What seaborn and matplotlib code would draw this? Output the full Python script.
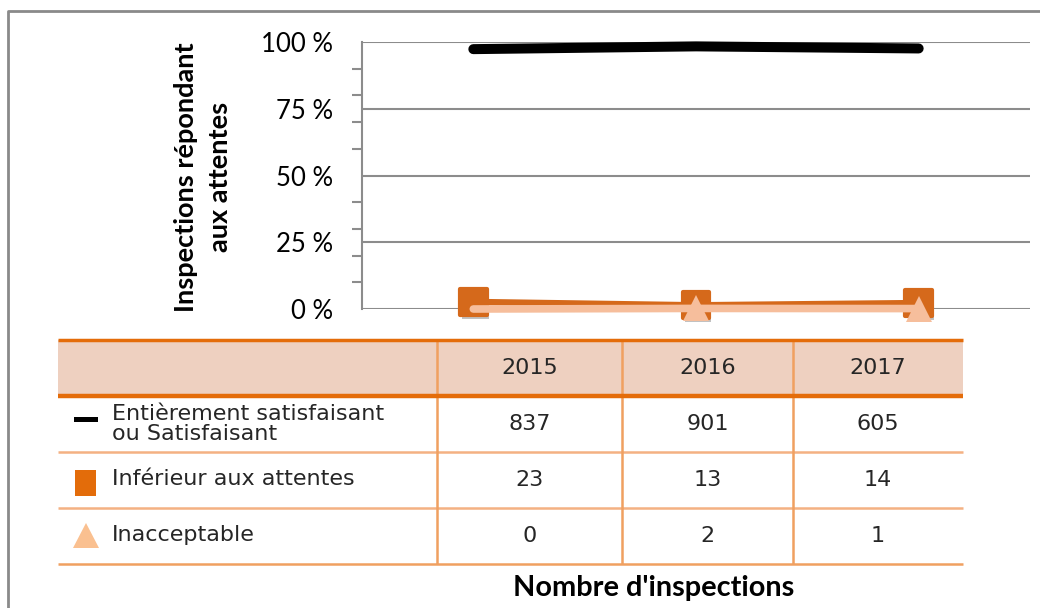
import matplotlib
matplotlib.use("Agg")
import matplotlib.pyplot as plt
import matplotlib.patheffects as pe
from matplotlib.patches import Rectangle, Polygon
from matplotlib.markers import MarkerStyle
from matplotlib.ticker import MultipleLocator, FuncFormatter
import seaborn as sns
import pandas as pd

# ---- data ----
years = ["2015", "2016", "2017"]
series_names = ["Entièrement satisfaisant\nou Satisfaisant", "Inférieur aux attentes", "Inacceptable"]
satisfaisant = [837, 901, 605]
inferieur = [23, 13, 14]
inacceptable = [0, 2, 1]
y_label = "Inspections répondant\naux attentes"
x_label = "Nombre d'inspections"

totals = [a + b + c for a, b, c in zip(satisfaisant, inferieur, inacceptable)]
pct_sat = [100 * v / t for v, t in zip(satisfaisant, totals)]
pct_inf = [100 * v / t for v, t in zip(inferieur, totals)]
pct_ina = [100 * v / t for v, t in zip(inacceptable, totals)]
xs = list(range(len(years)))

sns.set_theme(style="white")
plt.rcParams["font.family"] = ["Lato", "DejaVu Sans"]

W, H = 1040, 608
fig = plt.figure(figsize=(W / 100, H / 100), dpi=100)
fig.patch.set_facecolor("white")

L, R, T, B = 362, 1030, 42, 309
ax = fig.add_axes([L / W, 1 - B / H, (R - L) / W, (B - T) / H])
ax.set_facecolor("white")

BLACK = "#000000"
ORANGE = "#D5691B"
PEACH = "#F6BE9C"

df_sat = pd.DataFrame({"x": xs, "y": pct_sat})
df_inf = pd.DataFrame({"x": xs, "y": pct_inf})
df_ina = pd.DataFrame({"x": xs, "y": pct_ina})

sns.lineplot(data=df_sat, x="x", y="y", ax=ax, color=BLACK, linewidth=7.2,
             solid_capstyle="round", clip_on=False, zorder=5)
sns.lineplot(data=df_inf, x="x", y="y", ax=ax, color=ORANGE, linewidth=4.5,
             marker=MarkerStyle("s", joinstyle="round"), markersize=19,
             markeredgewidth=3, markeredgecolor=ORANGE, clip_on=False, zorder=6)
sns.lineplot(data=df_ina, x="x", y="y", ax=ax, color=PEACH, linewidth=5.5,
             solid_capstyle="round", marker="^", markersize=19, markeredgewidth=0,
             markevery=[1, 2], clip_on=False, zorder=7)
ax.lines[1].set_path_effects([pe.SimplePatchShadow(offset=(1.5, -2.5), shadow_rgbFace="#333333", alpha=0.3), pe.Normal()])

ax.set_xlim(-0.5, len(years) - 0.5)
ax.set_ylim(0, 100)
ax.set_xlabel("")
ax.set_ylabel("")
ax.set_xticks([])
ax.yaxis.set_major_locator(MultipleLocator(25))
ax.yaxis.set_minor_locator(MultipleLocator(10))
ax.yaxis.set_major_formatter(FuncFormatter(lambda v, p: f"{int(v)} %"))
ax.grid(axis="y", which="major", color="#8C8C8C", linewidth=1.5)
ax.tick_params(axis="y", which="major", length=0, labelsize=18.5, pad=21, colors="#000000", left=False)
ax.tick_params(axis="y", which="minor", length=7, width=1.5, color="#8C8C8C", left=True)
for s in ["top", "right", "bottom"]:
    ax.spines[s].set_visible(False)
ax.spines["left"].set_color("#8C8C8C")
ax.spines["left"].set_linewidth(1.5)

# ---- overlay in pixel coords ----
ov = fig.add_axes([0, 0, 1, 1], zorder=10)
ov.set_xlim(0, W)
ov.set_ylim(H, 0)
ov.axis("off")
ov.patch.set_alpha(0)

# outer frame
ov.plot([8, 8, W], [H, 11, 11], color="#8A8A8A", lw=2)

# y label
ov.text(203, 177, y_label, rotation=90, ha="center", va="center", multialignment="center",
        fontsize=19.5, fontweight="bold", color="#000000", linespacing=1.45)

# table
TL, TR = 58, 963
cols = [TL, 437, 622, 793, TR]
rows = [340, 396, 452, 508, 564]
ORL = "#E46C0A"
ORT = "#F4B183"
ORV = "#F0A060"
TXT = "#262626"
ov.add_patch(Rectangle((TL, rows[0]), TR - TL, rows[1] - rows[0], facecolor="#EED0C0", edgecolor="none"))
for y in rows[2:4]:
    ov.plot([TL, TR], [y, y], color=ORT, lw=1.8, solid_capstyle="butt")
ov.plot([TL, TR], [rows[-1], rows[-1]], color=ORV, lw=1.8, solid_capstyle="butt")
for x in cols[1:4]:
    ov.plot([x, x], [rows[0], rows[-1]], color=ORV, lw=1.8, solid_capstyle="butt")
ov.plot([TL, TR], [rows[0], rows[0]], color=ORL, lw=2.5, solid_capstyle="butt")
ov.plot([TL, TR], [rows[1], rows[1]], color=ORL, lw=3.2, solid_capstyle="butt")

tfs = 16
TF = "DejaVu Sans"
col_centers = [(cols[i] + cols[i + 1]) / 2 for i in range(1, 4)]
for cx, yr in zip(col_centers, years):
    ov.text(cx, 368, yr, ha="center", va="center", fontsize=tfs, color=TXT, family=TF)

row_vals = [satisfaisant, inferieur, inacceptable]
row_centers = [424, 480, 536]
for rc, vals in zip(row_centers, row_vals):
    for cx, v in zip(col_centers, vals):
        ov.text(cx, rc, str(v), ha="center", va="center", fontsize=tfs, color=TXT, family=TF)

ov.text(112, 424, series_names[0], ha="left", va="center", fontsize=tfs, color=TXT,
        family=TF, linespacing=0.95)
ov.text(112, 479, series_names[1], ha="left", va="center", fontsize=tfs, color=TXT, family=TF)
ov.text(112, 535, series_names[2], ha="left", va="center", fontsize=tfs, color=TXT, family=TF)

# legend keys
ov.add_patch(Rectangle((74, 417), 24, 5, facecolor="#000000", edgecolor="none"))
ov.add_patch(Rectangle((75, 470), 21, 26, facecolor="#E36C0A", edgecolor="none"))
ov.add_patch(Polygon([[73, 548], [99, 548], [86, 523]], closed=True, facecolor="#FAC090", edgecolor="none"))

# x label
ov.text(654, 596, x_label, ha="center", va="baseline", fontsize=20.8, fontweight="bold", color="#000000")

fig.savefig("out.png", dpi=100, facecolor="white")
